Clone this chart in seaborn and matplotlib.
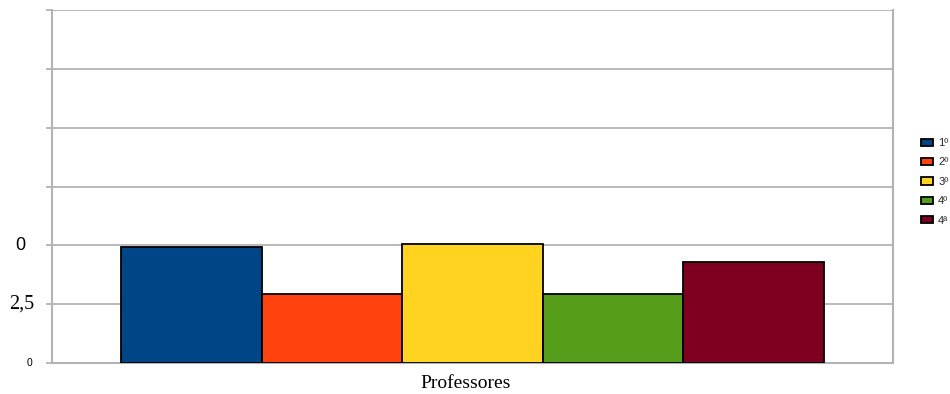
import matplotlib
matplotlib.use("Agg")
import matplotlib.pyplot as plt
import matplotlib.transforms as mtransforms
import pandas as pd
import seaborn as sns

# Data
category = ["Professores"]
series = ["1º", "2º", "3º", "4º", "4ª"]
values = [4.95, 2.92, 5.04, 2.92, 4.28]
colors = ["#004586", "#ff420e", "#ffd320", "#579d1c", "#7e0021"]
y_ticks = [0, 2.5, 5, 7.5, 10, 12.5, 15]
y_tick_labels = ["0", "2,5", "0", "", "", "", ""]

df = pd.DataFrame({
    "grupo": category * len(series),
    "serie": series,
    "valor": values,
})

sns.set_style("white")
plt.rcParams["font.family"] = ["Liberation Sans", "DejaVu Sans"]

fig = plt.figure(figsize=(9.5, 3.94), dpi=100)
ax = fig.add_axes([52 / 950, 1 - 363 / 394, (893 - 52) / 950, 353 / 394])

sns.barplot(
    data=df, x="grupo", y="valor", hue="serie",
    palette=colors, width=0.835, edgecolor="black", linewidth=1.3,
    saturation=1, ax=ax, legend=False, zorder=3,
)

grid_c = "#b3b3b3"
ax.set_ylim(0, 15)
ax.set_xlim(-0.5, 0.5)
ax.set_yticks(y_ticks)
ax.set_yticklabels([])
ax.yaxis.grid(True, color=grid_c, linewidth=1.3, zorder=0)
ax.set_axisbelow(True)
ax.tick_params(axis="y", length=4.5, width=1.3, color=grid_c, left=True)
ax.tick_params(axis="x", length=0, labelbottom=False)
ax.set_xlabel("")
ax.set_ylabel("")

for side in ["left", "bottom", "right"]:
    ax.spines[side].set_color(grid_c)
    ax.spines[side].set_linewidth(1.5)
ax.spines["top"].set_visible(False)

# category name below the bars
xtrans = mtransforms.blended_transform_factory(ax.transData, fig.transFigure)
ax.text(0, 1 - 388 / 394, category[0],
        transform=xtrans + mtransforms.ScaledTranslation(-0.07, 0, fig.dpi_scale_trans),
        ha="center", va="baseline", fontsize=14,
        fontfamily="Liberation Serif", color="black")

# y tick labels with their individual fonts
label_styles = [
    dict(size=7.5, family="Liberation Sans", dx=-20),
    dict(size=14.5, family="Liberation Serif", dx=-18),
    dict(size=13, family="Liberation Sans", dx=-27),
]
ytrans = mtransforms.blended_transform_factory(ax.transAxes, ax.transData)
for val, txt, st in zip(y_ticks, y_tick_labels, label_styles):
    off = mtransforms.ScaledTranslation(st["dx"] / 100, 0, fig.dpi_scale_trans)
    ax.text(0, val, txt, transform=ytrans + off, ha="right", va="center",
            fontsize=st["size"], fontfamily=st["family"], color="black")

# Legend
handles = [plt.Rectangle((0, 0), 1, 1, facecolor=c, edgecolor="black",
                         linewidth=1.3) for c in colors]
fig.legend(handles, series, loc="upper left",
           bbox_to_anchor=(921 / 950, 1 - 138 / 394),
           bbox_transform=fig.transFigure, frameon=False, fontsize=8,
           handlelength=1.1, handleheight=0.6, handletextpad=0.45,
           labelspacing=0.85, borderpad=0, borderaxespad=0)

fig.savefig("out.png", dpi=100)
